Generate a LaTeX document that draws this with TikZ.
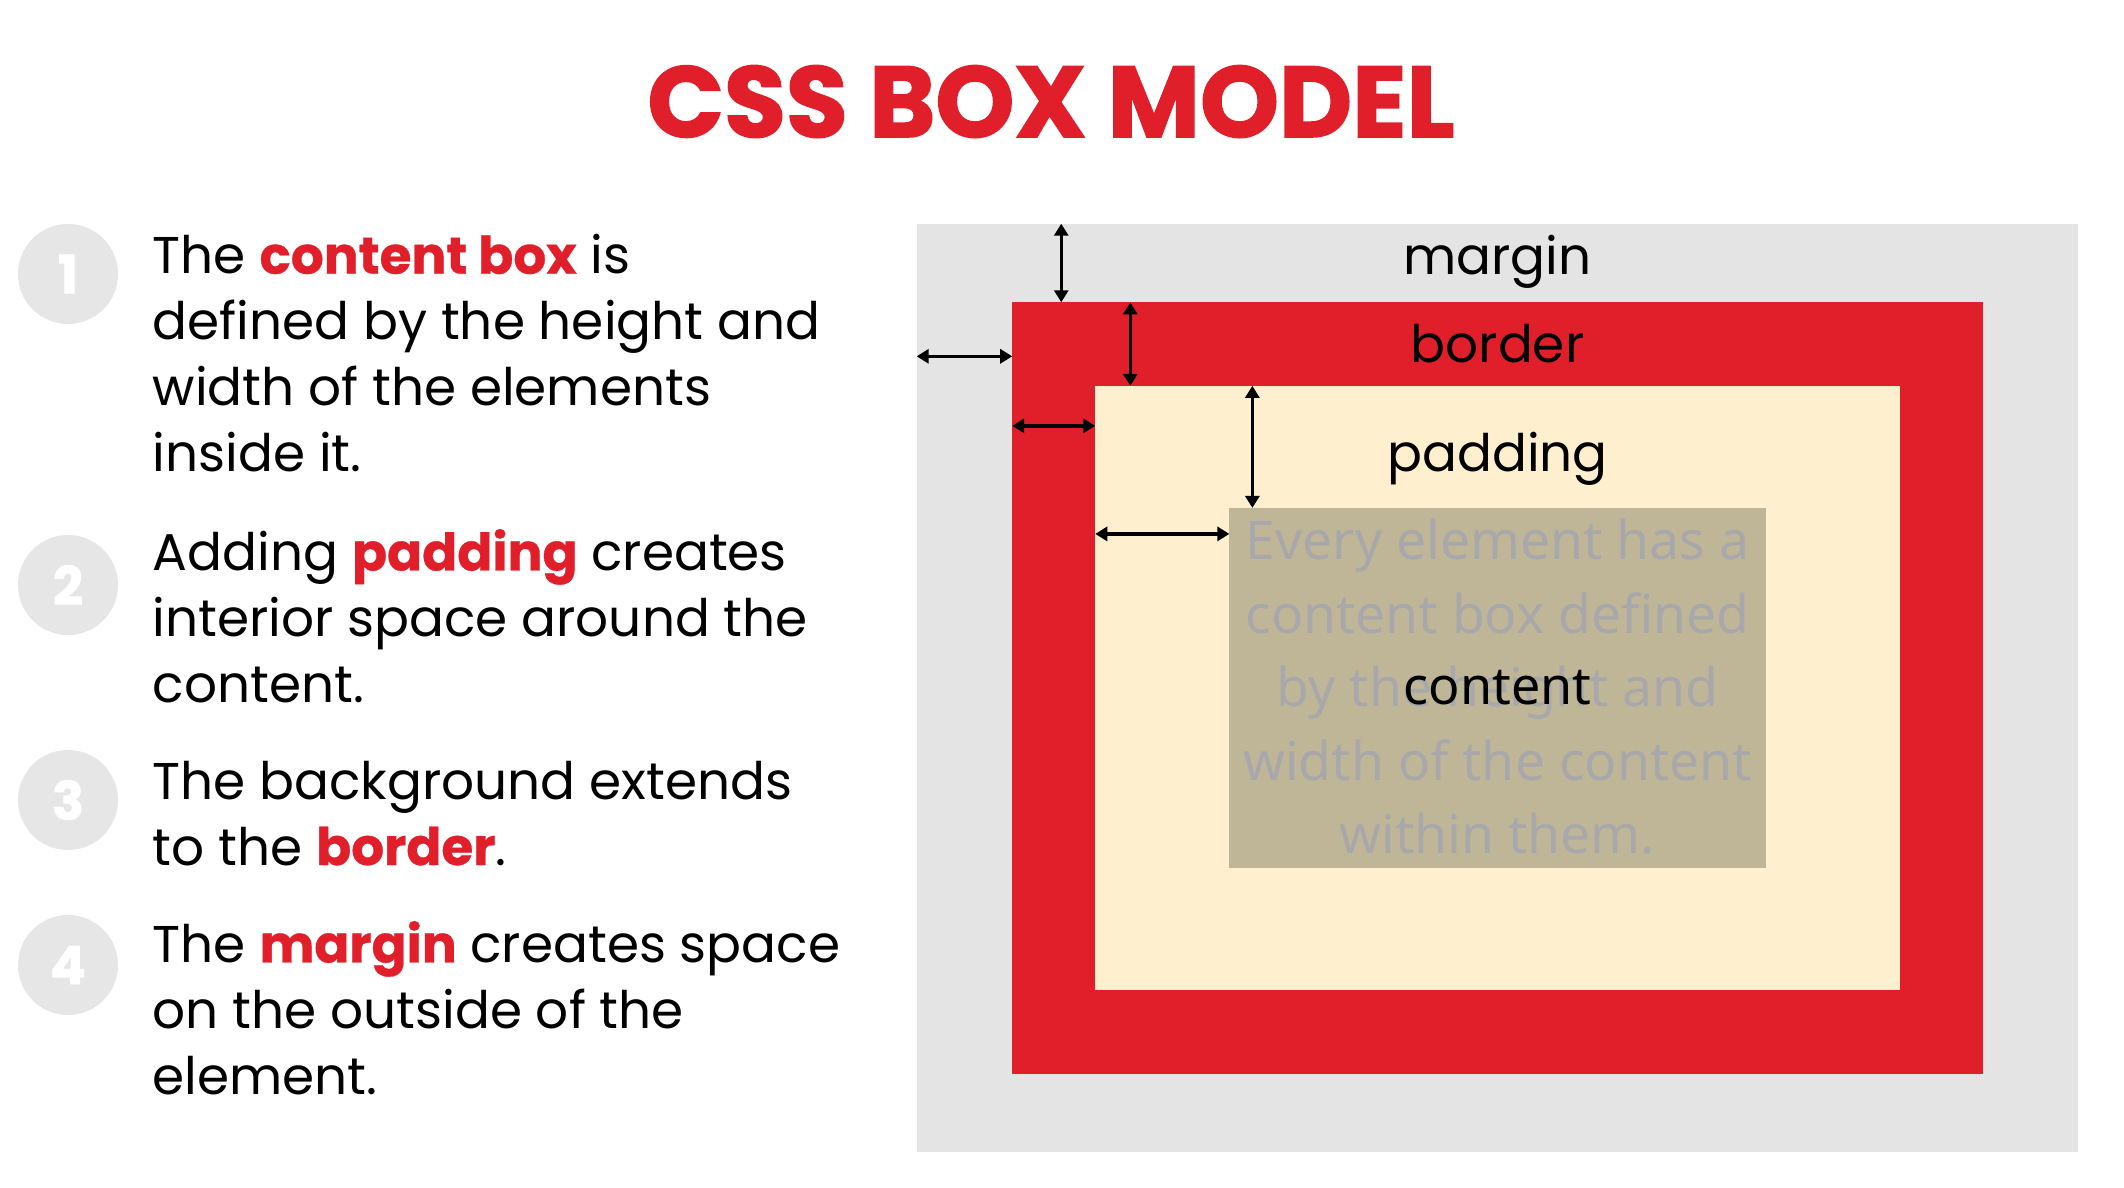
\documentclass[tikz,border=0pt]{standalone}
\usepackage{fontspec}
\setmainfont{Poppins}[BoldFeatures={FakeBold=0.6}]
\newfontfamily\titlefont{Poppins}[BoldFeatures={FakeBold=1.6}]
\newfontfamily\ghostfont{Noto Sans}
\usetikzlibrary{arrows.meta,positioning,calc}
\definecolor{cssred}{HTML}{E11F2B}
\definecolor{margingray}{HTML}{E4E4E4}
\definecolor{paddingcream}{HTML}{FEF0CF}
\definecolor{contenttan}{HTML}{BFB698}
\definecolor{ghostgray}{HTML}{A8A8AA}
\definecolor{circlegray}{HTML}{E6E6E6}
\newcommand{\hl}[1]{\textcolor{cssred}{\textbf{#1}}}

\begin{document}
\begin{tikzpicture}[
    x=0.01cm, y=-0.01cm,
    >={Triangle[length=0.12cm, width=0.14cm]},
    layer/.style={rectangle, inner sep=0pt, outer sep=0pt},
    boxlabel/.style={font=\fontsize{14.7}{18}\selectfont, anchor=base,
                     inner sep=0pt},
    item/.style={align=left, anchor=base west, inner sep=0pt,
                 font=\fontsize{14.7}{18.7}\selectfont},
    numcircle/.style={circle, fill=circlegray, minimum size=1cm,
                      inner sep=0pt, text=white,
                      font=\titlefont\fontsize{15}{18}\selectfont\bfseries},
    dimarrow/.style={<->, line width=0.95pt},
  ]

  \useasboundingbox (0,0) rectangle (2124,1188);

  % Title
  \node[font=\titlefont\fontsize{28.6}{30}\selectfont\bfseries,
        text=cssred, anchor=base, inner sep=0pt]
    at (1051, 137) (title) {CSS BOX MODEL};

  % Left column: numbered notes (placed by the baseline of the last line)
  \node[numcircle] at (68, 274) (n1) {1};
  \node[item] at (152, 471) (item1)
    {The \hl{content box} is\\defined by the height and\\
     width of the elements\\inside it.};
  \node[numcircle] at (68, 585) (n2) {2};
  \node[item] at (152, 702) (item2)
    {Adding \hl{padding} creates\\interior space around the\\content.};
  \node[numcircle] at (68, 800) (n3) {3};
  \node[item] at (152, 865) (item3)
    {The background extends\\to the \hl{border}.};
  \node[numcircle] at (68, 965) (n4) {4};
  \node[item] at (152, 1094) (item4)
    {The \hl{margin} creates space\\on the outside of the\\element.};

  % Right column: nested boxes
  \node[layer, fill=margingray, minimum width=11.61cm,
        minimum height=9.28cm] at (1497.5, 688) (margin) {};
  \node[layer, fill=cssred, minimum width=9.70cm,
        minimum height=7.71cm] at (margin.center) (border) {};
  \node[layer, fill=paddingcream, minimum width=8.04cm,
        minimum height=6.04cm] at (margin.center) (padding) {};
  \node[layer, fill=contenttan, minimum width=5.36cm,
        minimum height=3.60cm] at (margin.center) (content) {};

  % Box labels
  \node[boxlabel] at ([yshift=-0.51cm]margin.north) (marginlbl) {margin};
  \node[boxlabel] at ([yshift=-0.60cm]border.north) (borderlbl) {border};
  \node[boxlabel] at ([yshift=-0.86cm]padding.north) (paddinglbl) {padding};
  \node[align=center, text=ghostgray, inner sep=0pt,
        font=\ghostfont\fontsize{15.2}{20.9}\selectfont]
    at ([yshift=0.01cm]content.center) (ghost)
    {Every element has a\\content box defined\\by the height and\\
     width of the content\\within them.};
  \node[boxlabel, font=\ghostfont\fontsize{14.8}{18}\selectfont]
    at ([yshift=-0.16cm]content.center) (contentlbl) {content};

  % Dimension arrows
  \coordinate (m1) at ([xshift=0.49cm]border.north west);
  \coordinate (m2) at ([yshift=-0.54cm]border.north west);
  \coordinate (b1) at ([xshift=0.35cm]padding.north west);
  \coordinate (b2) at ([yshift=-0.40cm]padding.north west);
  \coordinate (p1) at ([xshift=0.23cm]content.north west);
  \coordinate (p2) at ([yshift=-0.26cm]content.north west);
  \draw[dimarrow] (m1 |- margin.north) -- (m1);
  \draw[dimarrow] (m2 -| margin.west) -- (m2);
  \draw[dimarrow] (b1 |- border.north) -- (b1);
  \draw[dimarrow] (b2 -| border.west) -- (b2);
  \draw[dimarrow] (p1 |- padding.north) -- (p1);
  \draw[dimarrow] (p2 -| padding.west) -- (p2);

\end{tikzpicture}
\end{document}
